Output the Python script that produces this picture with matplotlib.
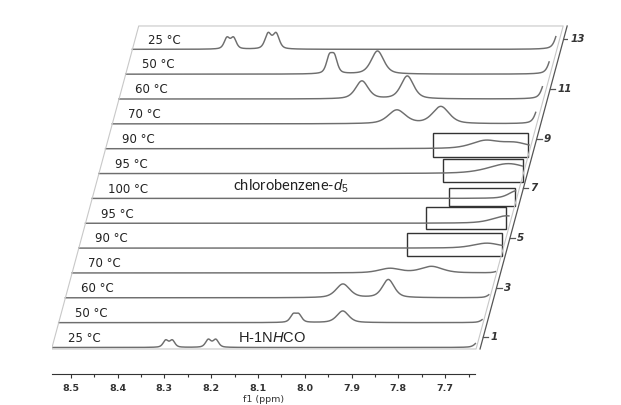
import numpy as np
import matplotlib.pyplot as plt
from matplotlib.patches import Rectangle

plt.rcParams['mathtext.fontset'] = 'custom'
plt.rcParams['mathtext.rm'] = 'Liberation Sans'
plt.rcParams['mathtext.it'] = 'Liberation Sans:italic'

# traces from bottom to top
temps = ['25 °C', '50 °C', '60 °C', '70 °C', '90 °C', '95 °C', '100 °C',
         '95 °C', '90 °C', '70 °C', '60 °C', '50 °C', '25 °C']

# peaks of every trace: centre (ppm), height (in trace spacings), fwhm (ppm)
peak_ppm = [
    [8.297, 8.283, 8.206, 8.190, 7.625],
    [8.039, 8.027, 7.933, 7.625],
    [7.947, 7.850, 7.625],
    [7.861, 7.772, 7.625],
    [7.668],
    [7.640],
    [7.633],
    [7.665],
    [7.729, 7.665],
    [7.932, 7.838, 7.625],
    [8.021, 7.924, 7.625],
    [8.105, 8.094, 8.002, 7.625],
    [8.338, 8.324, 8.250, 8.233, 7.625],
]
peak_height = [
    [0.28, 0.28, 0.31, 0.31, 0.33],
    [0.30, 0.30, 0.47, 0.25],
    [0.55, 0.73, 0.25],
    [0.18, 0.26, 0.10],
    [0.20],
    [0.30],
    [0.31],
    [0.40],
    [0.31, 0.22],
    [0.55, 0.69, 0.95],
    [0.72, 0.92, 1.02],
    [0.64, 0.64, 0.93, 1.02],
    [0.44, 0.44, 0.61, 0.61, 1.06],
]
peak_fwhm = [
    [0.013, 0.013, 0.014, 0.014, 0.020],
    [0.015, 0.015, 0.030, 0.020],
    [0.035, 0.030, 0.020],
    [0.055, 0.055, 0.020],
    [0.070],
    [0.070],
    [0.040],
    [0.100],
    [0.070, 0.070],
    [0.044, 0.042, 0.020],
    [0.032, 0.032, 0.020],
    [0.015, 0.015, 0.032, 0.020],
    [0.014, 0.014, 0.016, 0.016, 0.020],
]

# highlighted regions: trace index, ppm range, vertical range
boxed = [4, 5, 6, 7, 8]
box_ppm = [(7.839, 7.636), (7.813, 7.642), (7.777, 7.637), (7.804, 7.633), (7.841, 7.638)]
box_level = [(3.68, 4.59), (4.76, 5.67), (5.71, 6.43), (6.65, 7.58), (7.68, 8.62)]

major_ticks = [8.5, 8.4, 8.3, 8.2, 8.1, 8.0, 7.9, 7.8, 7.7]
minor_ticks = [8.45, 8.35, 8.25, 8.15, 8.05, 7.95, 7.85, 7.75, 7.65]
trace_numbers = [1, 3, 5, 7, 9, 11, 13]

ppm_left, ppm_right = 8.540, 7.6353
shift = 0.01432          # horizontal skew per trace (ppm)
axis_ppm = 7.6245        # slanted trace-number axis

fig = plt.figure(figsize=(6.21, 4.05), dpi=100)
ax = fig.add_axes([52 / 621, 54 / 405, 516 / 621, 329 / 405])
ax.set_xlim(ppm_left, 7.4374)
ax.set_ylim(-0.141, 13.10)

ppm = np.linspace(ppm_left, ppm_right, 1500)
for i, label in enumerate(temps):
    y = np.zeros_like(ppm)
    for c, h, w in zip(peak_ppm[i], peak_height[i], peak_fwhm[i]):
        u = (ppm - c) / w
        y += h * (0.5 / (1 + 4 * u ** 2) + 0.5 * np.exp(-4 * np.log(2) * u ** 2))
    ax.plot(ppm - shift * i, i + y, color='#6e6e6e', lw=1.05)
    ax.text(8.506 - shift * i, i + 0.37, label, fontsize=8.5, color='#222222',
            ha='left', va='center')

for i, (p0, p1), (l0, l1) in zip(boxed, box_ppm, box_level):
    ax.add_patch(Rectangle((p0 - shift * i, l0), p1 - p0, l1 - l0,
                           fill=False, edgecolor='#333333', lw=1.0))

# frame of the stacked plot
bot, top = -0.06, 12.94
fx = [ppm_left, 7.633, 7.633, ppm_left, ppm_left]
fy = [bot, bot, top, top, bot]
ax.plot([x - shift * y for x, y in zip(fx, fy)], fy, color='#c8c8c8', lw=0.8)

# trace-number axis on the right
ax.plot([axis_ppm - shift * bot, axis_ppm - shift * top], [bot, top],
        color='#555555', lw=0.9)
for n in trace_numbers:
    yt = n - 1 + 0.41
    x0 = axis_ppm - shift * yt
    ax.plot([x0, x0 - 0.0107], [yt, yt], color='#555555', lw=0.9)
    ax.text(x0 - 0.015, yt, str(n), fontsize=7.5, style='italic', weight='bold',
            color='#333333', ha='left', va='center')

ax.text(8.115 - shift * 6, 6.5, 'chlorobenzene-$\\mathit{d}_5$', fontsize=10.5,
        family='Lato', ha='center', va='center', color='#222222')
ax.text(8.070, 0.39, 'H-1N$\\mathit{H}$CO', fontsize=10.5, family='Liberation Sans',
        ha='center', va='center', color='#222222')

for s in ['left', 'right', 'top']:
    ax.spines[s].set_visible(False)
ax.spines['bottom'].set_position(('outward', 16.5))
ax.spines['bottom'].set_bounds(ppm_right, ppm_left)
ax.spines['bottom'].set_color('#333333')
ax.set_yticks([])
ax.set_xticks(major_ticks)
ax.set_xticklabels(['%.1f' % t for t in major_ticks], fontweight='bold')
ax.set_xticks(minor_ticks, minor=True)
ax.tick_params(axis='x', which='major', length=3, width=0.8, labelsize=6.8,
               pad=4, colors='#333333')
ax.tick_params(axis='x', which='minor', length=2, width=0.8, colors='#333333')
ax.set_xlabel('f1 (ppm)', fontsize=6.8, color='#333333')
ax.xaxis.set_label_coords((ppm_left - (ppm_left + ppm_right) / 2) / (ppm_left - 7.4374), -0.134)
ax.patch.set_alpha(0)

fig.savefig('out.png', dpi=100)
